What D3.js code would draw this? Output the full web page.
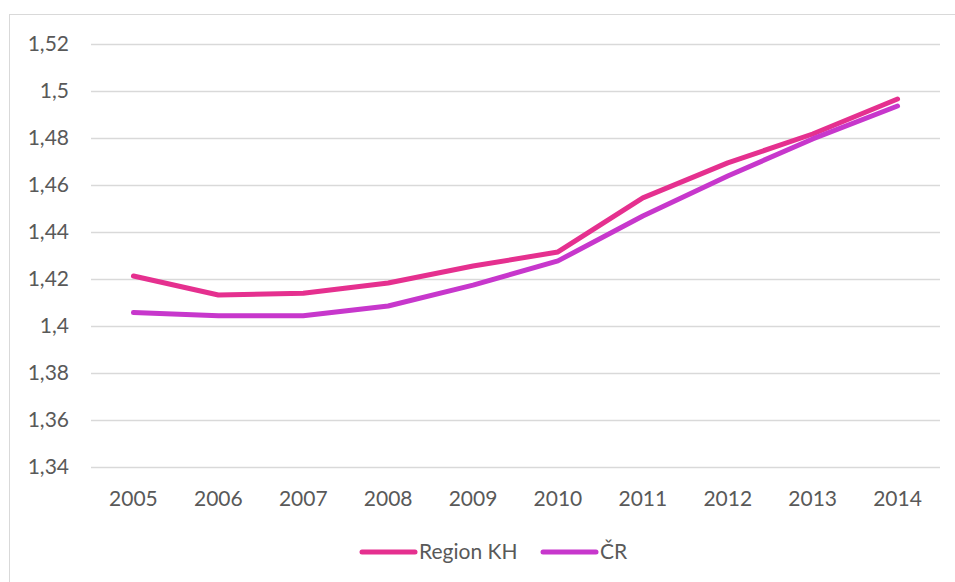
<!DOCTYPE html>
<html>
<head>
<meta charset="utf-8">
<script src="https://cdn.jsdelivr.net/npm/d3@7"></script>
<style>
  body { margin: 0; background: #fff; }
  svg text { font-family: Lato, "Open Sans", sans-serif; fill: #595959; }
</style>
</head>
<body>
<svg id="canvas" width="955" height="582"></svg>
<script>
let years = ['2005', '2006', '2007', '2008', '2009', '2010', '2011', '2012', '2013', '2014']
let regionKH = [1.4213, 1.4132, 1.4139, 1.4183, 1.4255, 1.4315, 1.4545, 1.4694, 1.4817, 1.4966]
let cr = [1.4057, 1.4044, 1.4044, 1.4085, 1.4174, 1.4277, 1.4468, 1.4638, 1.4796, 1.4936]
let yTicks = [1.34, 1.36, 1.38, 1.40, 1.42, 1.44, 1.46, 1.48, 1.50, 1.52]

let seriesNames = ['Region KH', 'ČR']
let seriesColors = ['#e5308f', '#c737cc']

let canvas = d3.select('#canvas')

// chart frame (cut off at right and bottom like the original)
canvas.append('rect')
    .attr('x', 9.5)
    .attr('y', 14.5)
    .attr('width', 960)
    .attr('height', 600)
    .attr('fill', 'none')
    .attr('stroke', '#d9d9d9')

let xScale = d3.scaleBand()
    .domain(years)
    .range([91, 940])

let yScale = d3.scaleLinear()
    .domain([1.34, 1.52])
    .range([467, 44])

// gridlines
canvas.append('g')
    .selectAll('line')
    .data(yTicks)
    .enter()
    .append('line')
    .attr('x1', 91)
    .attr('x2', 940)
    .attr('y1', (d) => Math.round(yScale(d)) + 0.5)
    .attr('y2', (d) => Math.round(yScale(d)) + 0.5)
    .attr('stroke', '#d9d9d9')
    .attr('stroke-width', 1.5)

let fmt = (d) => String(+d.toFixed(2)).replace('.', ',')

canvas.append('g')
    .selectAll('text')
    .data(yTicks)
    .enter()
    .append('text')
    .attr('x', 69)
    .attr('y', (d) => yScale(d))
    .attr('dy', '0.35em')
    .attr('text-anchor', 'end')
    .style('font-size', '21px')
    .text(fmt)

canvas.append('g')
    .selectAll('text')
    .data(years)
    .enter()
    .append('text')
    .attr('x', (d) => xScale(d) + xScale.bandwidth() / 2)
    .attr('y', 506)
    .attr('text-anchor', 'middle')
    .style('font-size', '21px')
    .text((d) => d)

let line = d3.line()
    .x((d, i) => xScale(years[i]) + xScale.bandwidth() / 2)
    .y((d) => yScale(d))

let allSeries = [regionKH, cr]

canvas.append('g')
    .selectAll('path')
    .data(allSeries)
    .enter()
    .append('path')
    .attr('d', (d) => line(d))
    .attr('fill', 'none')
    .attr('stroke', (d, i) => seriesColors[i])
    .attr('stroke-width', 5)
    .attr('stroke-linecap', 'round')
    .attr('stroke-linejoin', 'round')

// legend
let legendX = [362, 543]
let legend = canvas.append('g')
    .selectAll('g')
    .data(seriesNames)
    .enter()
    .append('g')
    .attr('transform', (d, i) => 'translate(' + legendX[i] + ',552)')

legend.append('line')
    .attr('x1', 0)
    .attr('x2', 53)
    .attr('stroke', (d, i) => seriesColors[i])
    .attr('stroke-width', 5)
    .attr('stroke-linecap', 'round')

legend.append('text')
    .attr('x', 57)
    .attr('dy', '0.35em')
    .style('font-size', '21px')
    .text((d) => d)
</script>
</body>
</html>
